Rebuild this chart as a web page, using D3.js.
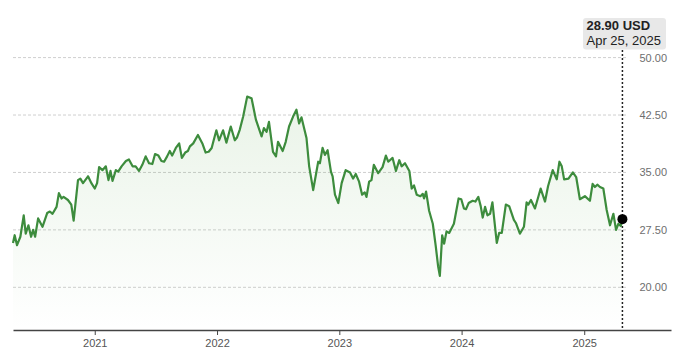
<!DOCTYPE html>
<html>
<head>
<meta charset="utf-8">
<script src="https://cdn.jsdelivr.net/npm/d3@7"></script>
<style>
  body { margin: 0; background: #fff; }
  svg { display: block; font-family: "Liberation Sans", Arial, sans-serif; }
  .x-axis text { font-size: 11px; fill: #555; }
  .x-axis path, .x-axis line { stroke: #444; }
  .y-labels text { font-size: 11px; fill: #6e6e6e; }
</style>
</head>
<body>
<div id="chart"></div>
<script>
// weekly closes (USD)
const dates = [
  "2020-05-02", "2020-05-07", "2020-05-14", "2020-05-24", "2020-06-03", "2020-06-09", "2020-06-17", "2020-06-25",
  "2020-07-01", "2020-07-07", "2020-07-16", "2020-07-29", "2020-08-12", "2020-08-20", "2020-08-28", "2020-09-09",
  "2020-09-16", "2020-09-24", "2020-09-30", "2020-10-13", "2020-10-23", "2020-10-30", "2020-11-12", "2020-11-19",
  "2020-11-27", "2020-12-12", "2020-12-22",
  "2021-01-01", "2021-01-08", "2021-01-14", "2021-01-24", "2021-02-03", "2021-02-11", "2021-02-17", "2021-02-23",
  "2021-03-05", "2021-03-12", "2021-03-22", "2021-04-04", "2021-04-13", "2021-04-24", "2021-05-03", "2021-05-13",
  "2021-05-23", "2021-06-02", "2021-06-12", "2021-06-22", "2021-06-30", "2021-07-10", "2021-07-19", "2021-07-27",
  "2021-08-05", "2021-08-13", "2021-08-20", "2021-08-31", "2021-09-10", "2021-09-18", "2021-09-28", "2021-10-06",
  "2021-10-12", "2021-10-22", "2021-11-05", "2021-11-19", "2021-11-28", "2021-12-07", "2021-12-16", "2021-12-22",
  "2021-12-30",
  "2022-01-07", "2022-01-19", "2022-01-29", "2022-02-11", "2022-02-23", "2022-03-02", "2022-03-10", "2022-03-20",
  "2022-04-01", "2022-04-14", "2022-04-27", "2022-05-14", "2022-05-21", "2022-05-29", "2022-06-05", "2022-06-17",
  "2022-06-26", "2022-07-02", "2022-07-16", "2022-07-25", "2022-08-04", "2022-08-16", "2022-08-26", "2022-09-03",
  "2022-09-10", "2022-09-25", "2022-10-03", "2022-10-15", "2022-10-30", "2022-11-04", "2022-11-12", "2022-11-19",
  "2022-11-27", "2022-12-07", "2022-12-12", "2022-12-19", "2022-12-29",
  "2023-01-08", "2023-01-20", "2023-02-02", "2023-02-11", "2023-02-19", "2023-03-01", "2023-03-10", "2023-03-18",
  "2023-03-23", "2023-03-31", "2023-04-07", "2023-04-14", "2023-04-27", "2023-05-10", "2023-05-20", "2023-05-27",
  "2023-06-09", "2023-06-19", "2023-06-29", "2023-07-06", "2023-07-16", "2023-07-29", "2023-08-05", "2023-08-12",
  "2023-08-20", "2023-08-31", "2023-09-07", "2023-09-11", "2023-09-17", "2023-09-26", "2023-10-07", "2023-10-16",
  "2023-10-23", "2023-10-28", "2023-11-04", "2023-11-10", "2023-11-17", "2023-11-25", "2023-12-09", "2023-12-23",
  "2023-12-31",
  "2024-01-08", "2024-01-14", "2024-01-22", "2024-02-03", "2024-02-11", "2024-02-20", "2024-02-27", "2024-03-04",
  "2024-03-11", "2024-03-18", "2024-03-26", "2024-04-02", "2024-04-15", "2024-04-22", "2024-04-30", "2024-05-12",
  "2024-05-22", "2024-06-05", "2024-06-11", "2024-06-23", "2024-07-05", "2024-07-13", "2024-07-18", "2024-07-26",
  "2024-08-07", "2024-08-24", "2024-09-06", "2024-09-15", "2024-09-29", "2024-10-11", "2024-10-19", "2024-10-26",
  "2024-11-02", "2024-11-15", "2024-11-28", "2024-12-08", "2024-12-19",
  "2025-01-03", "2025-01-18", "2025-01-26", "2025-02-02", "2025-02-09", "2025-02-17", "2025-02-27", "2025-03-09",
  "2025-03-19", "2025-03-29", "2025-04-06", "2025-04-13", "2025-04-20", "2025-04-25"
];

const closes = [
  25.8, 26.8, 25.5, 26.6, 29.4, 27.0, 28.1, 26.6, 27.5, 26.6, 29.0, 27.9, 29.7, 29.9, 29.6, 30.5,
  32.3, 31.6, 31.8, 31.4, 30.8, 28.7, 34.0, 34.2, 33.6, 34.5, 33.6,
  32.9, 33.6, 35.7, 35.3, 35.8, 34.0, 35.2, 33.9, 35.3, 35.1, 35.8, 36.5, 36.7, 35.8, 35.8, 35.2,
  36.0, 37.1, 36.2, 36.1, 37.4, 37.2, 36.5, 36.4, 37.1, 37.8, 37.2, 38.2, 38.8, 36.9, 37.6, 37.8,
  38.4, 38.8, 39.9, 38.7, 37.6, 37.7, 38.2, 39.2, 40.5,
  39.2, 40.5, 38.9, 41.0, 39.2, 39.6, 40.6, 42.3, 44.9, 44.7, 41.9, 39.7, 40.8, 40.3, 41.6, 37.7,
  37.1, 39.0, 37.8, 39.0, 41.0, 42.3, 43.2, 41.4, 42.2, 39.5, 35.8, 32.7, 36.4, 36.2, 38.2, 37.3,
  37.9, 35.1, 34.5, 32.1, 31.0,
  33.6, 35.3, 35.0, 34.2, 34.8, 33.8, 32.1, 32.4, 31.8, 33.8, 34.0, 36.0, 34.9, 35.7, 37.2, 36.4,
  36.9, 35.2, 36.6, 35.8, 36.2, 35.2, 32.9, 33.3, 32.1, 31.9, 32.2, 31.6, 32.5, 30.0, 28.3, 25.3,
  22.7, 21.5, 26.8, 25.7, 27.3, 27.1, 28.3, 31.6, 31.5,
  30.3, 30.2, 31.0, 31.3, 31.2, 31.8, 30.6, 29.1, 30.5, 29.4, 29.6, 31.1, 25.8, 27.1, 27.1, 30.8,
  30.6, 28.8, 28.4, 27.0, 27.9, 31.1, 30.8, 31.4, 30.3, 32.9, 31.2, 33.2, 35.3, 34.1, 36.4, 35.8,
  34.1, 34.2, 35.0, 34.4, 31.5,
  31.9, 31.3, 33.5, 33.1, 33.4, 33.1, 32.9, 30.1, 28.1, 29.6, 27.5, 28.3, 28.0, 28.9
];

const yTicks = [20, 27.5, 35, 42.5, 50];
const xTickYears = ["2021", "2022", "2023", "2024", "2025"];
const axisEnd = "2025-09-17";
const currency = "USD";

const parseDate = d3.utcParse("%Y-%m-%d");
const data = dates.map((d, i) => ({ date: parseDate(d), value: closes[i] }));
const last = data[data.length - 1];

const width = 680, height = 354;
const plot = { left: 13, right: 671, gridRight: 628, top: 57.6, bottom: 287.3, axisY: 330 };

const svg = d3.select('#chart').append('svg')
    .attr('width', width)
    .attr('height', height);

const x = d3.scaleUtc()
    .domain([data[0].date, parseDate(axisEnd)])
    .range([plot.left, plot.right]);

// 20 -> 50 between the bottom and top gridlines
const y = d3.scaleLinear()
    .domain([20, 50])
    .range([plot.bottom, plot.top]);

// gradient for the area under the line
const grad = svg.append('defs').append('linearGradient')
    .attr('id', 'areaFill')
    .attr('gradientUnits', 'userSpaceOnUse')
    .attr('x1', 0).attr('x2', 0)
    .attr('y1', y(45)).attr('y2', plot.axisY);
grad.append('stop').attr('offset', 0).attr('stop-color', '#4a9e3c').attr('stop-opacity', 0.12);
grad.append('stop').attr('offset', 1).attr('stop-color', '#4a9e3c').attr('stop-opacity', 0);

// gridlines
svg.append('g').selectAll('line')
    .data(yTicks)
    .join('line')
    .attr('x1', plot.left)
    .attr('x2', plot.gridRight)
    .attr('y1', d => y(d))
    .attr('y2', d => y(d))
    .attr('stroke', '#cfcfcf')
    .attr('stroke-dasharray', '3,2');

// y labels on the right
const yAxis = d3.axisLeft(y)
    .tickValues(yTicks)
    .tickFormat(d3.format('.2f'))
    .tickSize(0)
    .tickPadding(0);
svg.append('g')
    .attr('class', 'y-labels')
    .attr('transform', `translate(667,0)`)
    .call(yAxis)
    .call(g => g.select('.domain').remove());

// area + line
const area = d3.area()
    .x(d => x(d.date))
    .y0(plot.axisY)
    .y1(d => y(d.value));

const line = d3.line()
    .x(d => x(d.date))
    .y(d => y(d.value));

svg.append('path')
    .datum(data)
    .attr('fill', 'url(#areaFill)')
    .attr('d', area);

svg.append('path')
    .datum(data)
    .attr('fill', 'none')
    .attr('stroke', '#3d8c3d')
    .attr('stroke-width', 2.2)
    .attr('stroke-linejoin', 'round')
    .attr('d', line);

// x axis
const xAxis = d3.axisBottom(x)
    .tickValues(xTickYears.map(yr => parseDate(yr + '-01-01')))
    .tickFormat(d3.utcFormat('%Y'))
    .tickSizeInner(5)
    .tickSizeOuter(0)
    .tickPadding(4);
svg.append('g')
    .attr('class', 'x-axis')
    .attr('transform', `translate(0,${plot.axisY})`)
    .call(xAxis)
    .call(g => g.select('.domain').attr('stroke-width', 1.5));

// latest value marker
const lx = x(last.date);
svg.append('line')
    .attr('x1', lx).attr('x2', lx)
    .attr('y1', 50).attr('y2', plot.axisY)
    .attr('stroke', '#222')
    .attr('stroke-width', 1.5)
    .attr('stroke-dasharray', '2,2');

svg.append('circle')
    .attr('cx', lx)
    .attr('cy', y(last.value))
    .attr('r', 5)
    .attr('fill', '#000');

const tip = svg.append('g').attr('transform', `translate(583,18)`);
tip.append('rect')
    .attr('width', 83)
    .attr('height', 31.5)
    .attr('rx', 3)
    .attr('fill', '#e8e8e8');
tip.append('text')
    .attr('x', 3.5).attr('y', 11.5)
    .attr('font-size', 13)
    .attr('font-weight', 'bold')
    .attr('fill', '#222')
    .text(`${d3.format('.2f')(last.value)} ${currency}`);
tip.append('text')
    .attr('x', 3.5).attr('y', 27)
    .attr('font-size', 13)
    .attr('fill', '#222')
    .text(d3.utcFormat('%b %-d, %Y')(last.date));
</script>
</body>
</html>
